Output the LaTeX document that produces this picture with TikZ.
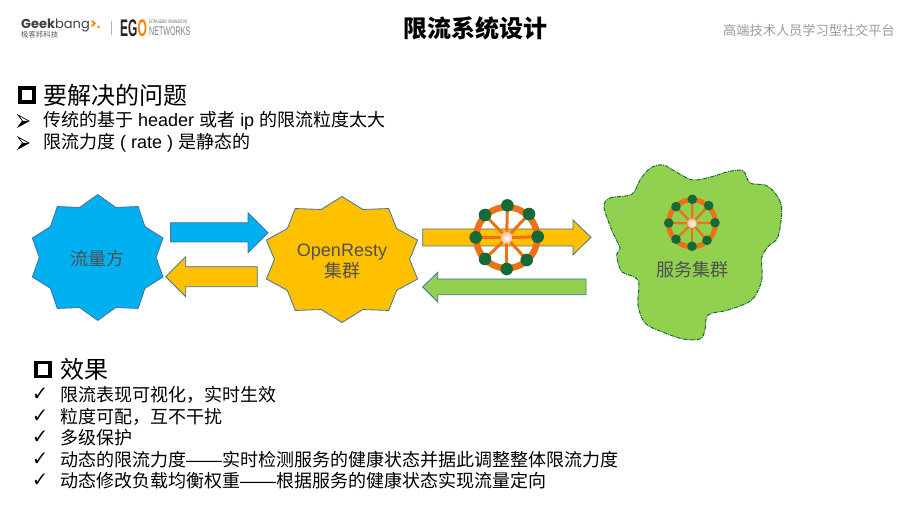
\documentclass[tikz,border=0pt]{standalone}
\usepackage{fontspec}
\setmainfont{Liberation Sans}
\newfontfamily\cjk{Noto Sans CJK SC}
\newfontfamily\logofont{Poppins}
\newfontfamily\egofont[FakeStretch=0.5]{Liberation Sans}
\newfontfamily\netfont[FakeStretch=0.57]{Liberation Sans}
\usepackage{pifont}
\definecolor{skyfill}{HTML}{00B0F0}
\definecolor{amberfill}{HTML}{FFC000}
\definecolor{leaffill}{HTML}{92D050}
\definecolor{edgeblue}{HTML}{41719C}
\definecolor{wheelorange}{HTML}{ED7116}
\definecolor{dotgreen}{HTML}{146B36}
\definecolor{labelgray}{HTML}{505050}
\tikzset{
    blockarrow/.style={draw=edgeblue, line width=0.8pt, line join=miter},
    spoke/.style={wheelorange, line width=3pt},
    bodytext/.style={anchor=west, inner sep=0pt, font=\fontsize{18}{20}\selectfont\cjk},
    headtext/.style={anchor=west, inner sep=0pt, font=\fontsize{24}{28}\selectfont\cjk},
    shapelabel/.style={text=labelgray, align=center, inner sep=0pt, font=\fontsize{18}{21}\selectfont\cjk},
}
\newcommand{\lat}[1]{{\rmfamily #1}}
\newcommand{\tenstar}[5]{%
    \fill[#5, draw=edgeblue, line width=0.8pt, line join=miter]
        plot[samples at={0,...,19}] ({#1+(mod(\x,2)==0 ? #3 : 0.85*#3)*cos(90+18*\x)},{#2-(mod(\x,2)==0 ? #4 : 0.835*#4)*sin(90+18*\x)}) -- cycle;
}
\begin{document}
\begin{tikzpicture}[x=1pt, y=-1pt]
    \useasboundingbox (0,0) rectangle (906,510);
    % logo
    \node[anchor=west, inner sep=0pt, font=\fontsize{13}{16}\selectfont\logofont, text=black!75] (geek) at (21,25.5) {\textbf{Geek}bang\textcolor{orange}{\textbf{>.}}};
    \node[anchor=west, inner sep=0pt, font=\fontsize{7.4}{8}\selectfont\cjk, text=black!65] (geekcn) at (21,35) {极客邦科技};
    \draw[gray!60, line width=0.8pt] (111.5,21) -- (111.5,35);
    \node[anchor=west, inner sep=0pt, font=\fontsize{24}{26}\selectfont\egofont\bfseries, text=black!85] (ego) at (120,28) {EG\textcolor{orange}{O}};
    \node[anchor=west, inner sep=0pt, font=\fontsize{5}{6}\selectfont\egofont, text=black!65] (egotop) at (149,21.5) {EXTRA GEEKS' ORGANIZATION};
    \node[anchor=west, inner sep=0pt, font=\fontsize{12.5}{14}\selectfont\netfont, text=gray] (egonet) at (149,31.5) {NETWORKS};
    % title
    \node[inner sep=0pt, font=\fontsize{24}{28}\selectfont\cjk\bfseries] (title) at (475.5,28) {限流系统设计};
    \node[anchor=east, inner sep=0pt, font=\fontsize{13.2}{16}\selectfont\cjk, text=black!40] (slogan) at (895,30) {高端技术人员学习型社交平台};
    % problem
    \draw[line width=3.8pt] (20,88) rectangle (34,102);
    \node[headtext] (problem) at (43,95.5) {要解决的问题};
    \foreach \ypos/\txt in {121/传统的基于\lat{ header }或者\lat{ ip }的限流粒度太大, 143/限流力度\lat{ ( rate ) }是静态的} {
        \draw[line width=0.7pt, line join=miter] (18,\ypos-6) -- (29,\ypos) -- (18,\ypos+6) -- (22.5,\ypos) -- cycle;
        \fill (22.5,\ypos) -- (29,\ypos) -- (18,\ypos+6) -- cycle;
        \node[bodytext] (line\ypos) at (43,\ypos) {\txt};
    }
    % stars
    \tenstar{97.7}{257.5}{68.7}{63}{skyfill}
    \node[shapelabel] (source) at (97,258.5) {流量方};
    \tenstar{342}{259.5}{79.5}{63}{amberfill}
    \node[shapelabel] (resty) at (342,261) {\lat{OpenResty}\\集群};
    % arrows
    \draw[blockarrow, fill=skyfill] (170.5,222.7) -- (248,222.7) -- (248,212.7) -- (268,232.7) -- (248,252.7) -- (248,242) -- (170.5,242) -- cycle;
    \draw[blockarrow, fill=amberfill] (257.3,266.7) -- (185.7,266.7) -- (185.7,256.7) -- (165.7,276.7) -- (185.7,296.7) -- (185.7,286.7) -- (257.3,286.7) -- cycle;
    \draw[blockarrow, fill=amberfill] (422.7,229) -- (573,229) -- (573,220) -- (591,237.3) -- (573,255) -- (573,246) -- (422.7,246) -- cycle;
    \draw[blockarrow, fill=leaffill] (586,279) -- (437.7,279) -- (437.7,272.3) -- (422.7,287) -- (437.7,302) -- (437.7,294.7) -- (586,294.7) -- cycle;
    % cluster cloud
    \filldraw[fill=leaffill, draw=dotgreen, dash pattern=on 4pt off 1pt on 1pt off 1pt, line width=1pt]
        plot[smooth cycle, tension=0.55] coordinates {(604,207) (610,198) (631.7,194.3) (640,180) (650,168.3) (663,165) (678,173) (693,180) (712,176.7) (728,171.7) (743,170.7) (750,183) (765,185) (775,193) (781.7,208) (778,236.7) (768,246.7) (761.7,258) (761.7,280) (751.7,300) (728,310) (708,315) (705,330) (700,339) (683,339) (661.7,331.7) (645,323) (638,305) (638,280) (621.7,271.7) (616.7,255) (620,248) (611.7,230)};
    \node[shapelabel] (cluster) at (692,270) {服务集群};
    % big wheel
    \coordinate (hubA) at (506.7,237.7);
    \draw[wheelorange, line width=6.5pt] (hubA) circle (30.5pt);
    \foreach \dx/\dy in {0.7/-32.3, 22.3/-23.7, 31/-1, 20/22.3, 0/31.3, -21.7/21.3, -31/-0.3, -21.7/-22.7} {
        \draw[spoke] (hubA) -- ++(\dx,\dy);
        \fill[dotgreen] (hubA) ++(\dx,\dy) circle (6.3pt);
    }
    \shade[inner color=white, outer color=red!35!orange!40] (hubA) circle (6pt);
    % small wheel
    \coordinate (hubB) at (692,223.3);
    \draw[wheelorange, line width=5pt] (hubB) circle (23.5pt);
    \foreach \dx/\dy in {0.3/-24, 16.7/-17.7, 23/-0.6, 15/17, 0/23, -16/16, -23.3/-0.3, -16/-16.7} {
        \draw[spoke, line width=2.3pt] (hubB) -- ++(\dx,\dy);
        \fill[dotgreen] (hubB) ++(\dx,\dy) circle (4.8pt);
    }
    \shade[inner color=white, outer color=red!35!orange!40] (hubB) circle (4.8pt);
    % effect
    \draw[line width=3.6pt] (36,362.5) rectangle (50,376.5);
    \node[headtext] (effect) at (60,369.5) {效果};
    \foreach \ypos/\txt in {395/限流表现可视化，实时生效, 417/粒度可配，互不干扰, 438/多级保护, 460/动态的限流力度\lat{——}实时检测服务的健康状态并据此调整整体限流力度, 481/动态修改负载均衡权重\lat{——}根据服务的健康状态实现流量定向} {
        \node[inner sep=0pt, font=\fontsize{15}{15}\selectfont] (tick\ypos) at (40,\ypos-1.5) {\ding{51}};
        \node[bodytext] (line\ypos) at (60,\ypos) {\txt};
    }
\end{tikzpicture}
\end{document}
